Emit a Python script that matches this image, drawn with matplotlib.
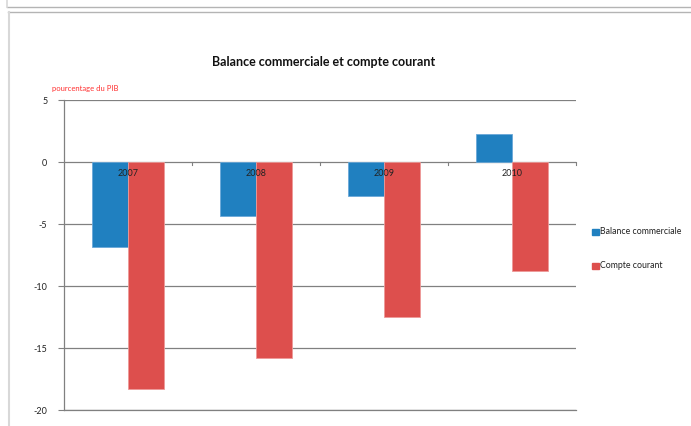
import matplotlib
matplotlib.use("Agg")
import matplotlib.pyplot as plt
from matplotlib.lines import Line2D
from matplotlib.patches import Rectangle
import numpy as np

plt.rcParams['font.family'] = ['Lato', 'DejaVu Sans']

years = ["2007", "2008", "2009", "2010"]
balance_commerciale = [-6.85, -4.35, -2.75, 2.25]
compte_courant = [-18.3, -15.8, -12.5, -8.8]
series_names = ["Balance commerciale", "Compte courant"]
colors = ["#2080c0", "#dd4f4d"]
edge_colors = ["#6aa8d8", "#ee9a98"]

W, H = 691, 426
fig = plt.figure(figsize=(W / 100, H / 100), dpi=100)

# outer frames
fig.add_artist(Line2D([7 / W, 1], [1 - 7 / H] * 2, color="#b4b4b4", lw=1))
fig.add_artist(Line2D([7 / W] * 2, [1, 1 - 7 / H], color="#d8d8d8", lw=1.2))
fig.add_artist(Line2D([8 / W, 1], [1 - 12 / H] * 2, color="#b4b4b4", lw=1))
fig.add_artist(Line2D([8.5 / W] * 2, [0, 1 - 12 / H], color="#d8d8d8", lw=1.5))

ax = fig.add_axes([64 / W, 1 - 410 / H, 512 / W, 310 / H])
x = np.arange(len(years))
w = 0.28
ax.bar(x - w / 2, balance_commerciale, w, color=colors[0], edgecolor=edge_colors[0], linewidth=0.6, zorder=3, label=series_names[0])
ax.bar(x + w / 2, compte_courant, w, color=colors[1], edgecolor=edge_colors[1], linewidth=0.6, zorder=3, label=series_names[1])

ax.set_xlim(-0.5, len(years) - 0.5)
ax.set_ylim(-20, 5)
ax.set_yticks([5, 0, -5, -10, -15, -20])
ax.set_yticklabels(["5", "0", "-5", "-10", "-15", "-20"], fontsize=6.5, color="#222222")
ax.tick_params(axis="y", length=4, width=0.8, color="#808080", pad=8)
ax.yaxis.grid(True, color="#808080", lw=0.9, zorder=0)
ax.set_xticks([])
for s in ["top", "right"]:
    ax.spines[s].set_visible(False)
for s in ["left", "bottom"]:
    ax.spines[s].set_color("#808080")
    ax.spines[s].set_linewidth(0.9)

# category boundary ticks on zero line and labels
for b in np.arange(0.5, len(years) - 0.4, 1.0):
    ax.plot([b, b], [0, -0.25], color="#808080", lw=0.8, zorder=4, clip_on=False)
for i, yr in enumerate(years):
    ax.text(i, -0.55, yr, ha="center", va="top", fontsize=6.5, color="#222222", zorder=5)

fig.text(324 / W, 1 - 62 / H, "Balance commerciale et compte courant", ha="center", va="center",
         fontsize=9, fontweight="bold", color="#111111")
fig.text(52 / W, 1 - 88 / H, "pourcentage du PIB", ha="left", va="center", fontsize=5.5, color="#ff3030")

# legend
for i, (name, c) in enumerate(zip(series_names, colors)):
    yc = [232, 266][i]
    fig.add_artist(Rectangle((592 / W, 1 - (yc + 3) / H), 7 / W, 6 / H, color=c, transform=fig.transFigure))
    fig.text(600 / W, 1 - yc / H, name, ha="left", va="center", fontsize=6.3, color="#222222")

fig.savefig("out.png", dpi=100)
